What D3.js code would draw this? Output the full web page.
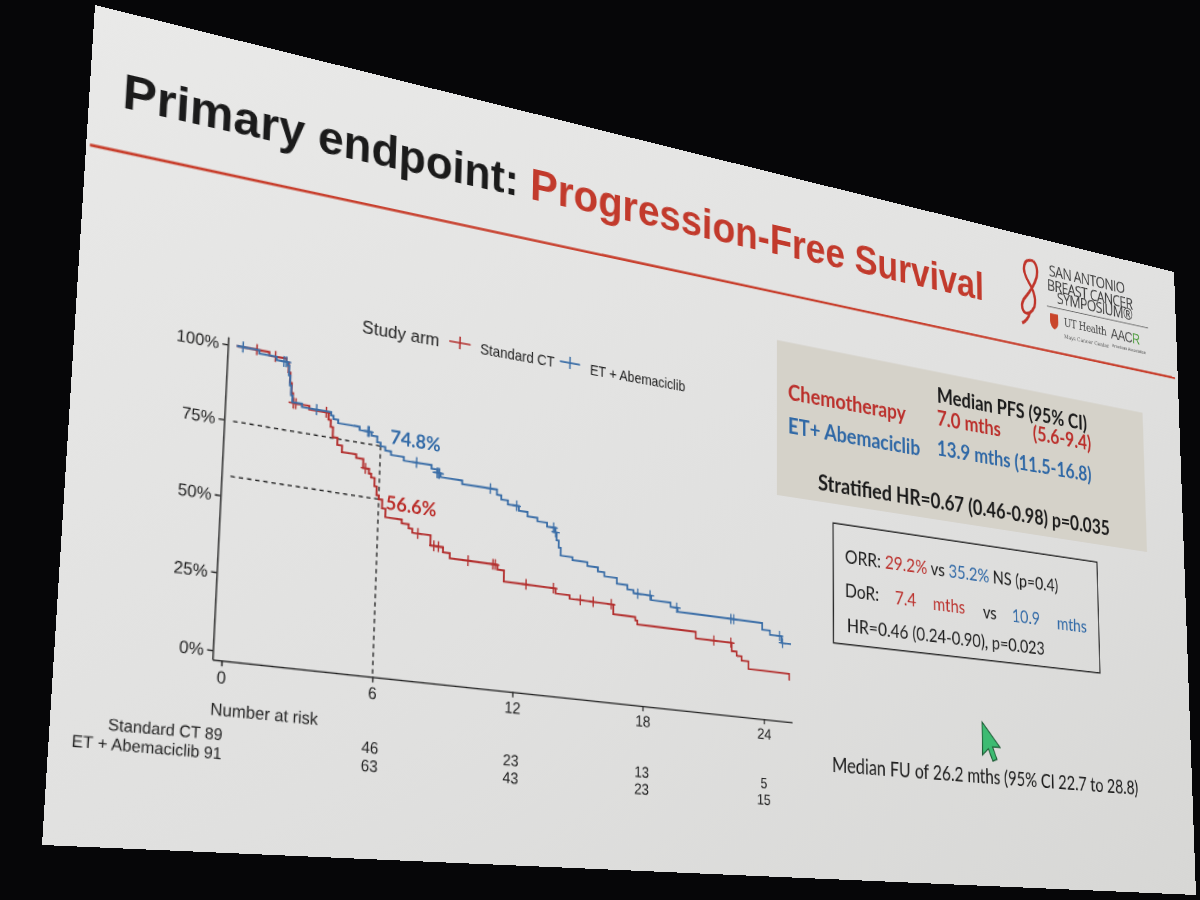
<!DOCTYPE html>
<html>
<head>
<meta charset="utf-8">
<title>Primary endpoint: Progression-Free Survival</title>
<script src="https://cdn.jsdelivr.net/npm/d3@7/dist/d3.min.js"></script>
<style>
  html, body { margin: 0; padding: 0; width: 1200px; height: 900px; overflow: hidden; background: #060608; }
  #slide { position: absolute; left: 0; top: 0; width: 1280px; height: 720px; transform-origin: 0 0; }
  .axis text { font-family: "Liberation Sans", Arial, sans-serif; font-size: 15px; fill: #222; }
  .axis path, .axis line { stroke: #222; stroke-width: 1.3; }
</style>
</head>
<body>
<div id="slide"></div>
<script>
(function () {
'use strict';

// ---- values ----
var months = [0, 6, 12, 18, 24];
var survTicks = [0, 25, 50, 75, 100];
var arms = ['Standard CT', 'ET + Abemaciclib'];

// Kaplan-Meier steps: [month, % progression-free]
var ctSteps = [
  [0, 100], [1.3, 98.9], [2.0, 97.8], [2.1, 94.4], [2.18, 91.0], [2.25, 87.6], [2.32, 84.3], [3.0, 83.1],
  [3.8, 80.8], [3.9, 78.5], [4.0, 75.1], [4.2, 72.8], [4.4, 70.6], [5.0, 69.4], [5.3, 66.4],
  [5.55, 64.8], [5.65, 63.6], [5.8, 60.8], [5.9, 57.9], [6.0, 56.6], [6.15, 53.7], [6.3, 50.9],
  [7.0, 49.6], [7.3, 48.3], [7.46, 47.0], [8.25, 43.5], [8.8, 41.8], [9.1, 40.1], [11.2, 38.5],
  [11.5, 34.7], [13.85, 33.0], [14.5, 31.8], [16.55, 28.4], [17.6, 27.2], [17.7, 25.9],
  [20.55, 23.6], [22.35, 20.6], [22.6, 19.1], [22.85, 17.6], [23.2, 14.8], [25.3, 12.3]
];
var ctCensored = [0.8, 1.55, 2.35, 2.45, 3.7, 5.4, 7.7, 8.4, 8.6, 9.9, 11.0, 11.1, 12.5, 13.75, 15.0, 15.6, 16.45, 21.45, 22.3];
var ctLastMonth = 25.3;

var abemaSteps = [
  [0, 100], [0.9, 98.9], [1.6, 97.8], [2.05, 96.7], [2.12, 93.4], [2.18, 90.1], [2.24, 86.8], [2.3, 84.6],
  [2.7, 83.5], [3.9, 82.4], [4.0, 81.3], [4.2, 80.2], [5.1, 79.1], [5.6, 77.9], [5.85, 76.0], [6.0, 74.8],
  [6.2, 73.6], [6.45, 72.4], [7.0, 71.2], [8.2, 70.0], [8.45, 68.8], [8.6, 67.6], [9.55, 66.4],
  [11.1, 64.6], [11.3, 63.2], [11.6, 61.8], [12.1, 60.2], [12.5, 58.7], [12.95, 57.5], [13.4, 56.1],
  [13.75, 54.6], [13.85, 51.8], [13.95, 49.3], [14.05, 46.6], [14.6, 45.6], [15.3, 44.3], [15.8, 42.9],
  [16.1, 41.5], [16.7, 39.5], [17.2, 38.0], [17.5, 36.9], [18.35, 35.3], [19.3, 33.8], [19.65, 32.4],
  [23.9, 30.0], [24.3, 28.5], [24.9, 26.0]
];
var abemaCensored = [0.25, 1.9, 2.0, 3.3, 5.45, 5.5, 7.55, 8.45, 8.5, 8.55, 10.8, 12.0, 13.7, 13.8, 17.7, 18.3, 19.6, 22.3, 22.45, 24.8, 24.95];
var abemaLastMonth = 25.4;

var ctAtRisk = [89, 46, 23, 13, 5];
var abemaAtRisk = [91, 63, 43, 23, 15];

var landmarkMonth = 6;
var landmarkSurv = [56.6, 74.8];   // Standard CT, ET + Abemaciclib

// ---- slide geometry: the photo shows the projected slide in perspective ----
var W = 1280, H = 720;
var screenCorners = [[95, 5], [1174, 272], [1196, 895], [42, 845]];

function solve(A, b) {
  var n = b.length;
  var M = A.map(function (r, i) { return r.concat([b[i]]); });
  for (var c = 0; c < n; c++) {
    var p = c;
    for (var r = c + 1; r < n; r++) if (Math.abs(M[r][c]) > Math.abs(M[p][c])) p = r;
    var tmp = M[c]; M[c] = M[p]; M[p] = tmp;
    for (r = 0; r < n; r++) {
      if (r === c) continue;
      var f = M[r][c] / M[c][c];
      for (var k = c; k <= n; k++) M[r][k] -= f * M[c][k];
    }
  }
  return M.map(function (r, i) { return r[n] / r[i]; });
}

function homography(src, dst) {
  var A = [], b = [];
  src.forEach(function (s, i) {
    var x = s[0], y = s[1], u = dst[i][0], v = dst[i][1];
    A.push([x, y, 1, 0, 0, 0, -x * u, -y * u]); b.push(u);
    A.push([0, 0, 0, x, y, 1, -x * v, -y * v]); b.push(v);
  });
  var h = solve(A, b);
  return [[h[0], h[1], h[2]], [h[3], h[4], h[5]], [h[6], h[7], 1]];
}

function invert3(m) {
  var a = m[0][0], b = m[0][1], c = m[0][2],
      d = m[1][0], e = m[1][1], f = m[1][2],
      g = m[2][0], h = m[2][1], i = m[2][2];
  var A = e * i - f * h, B = -(d * i - f * g), C = d * h - e * g;
  var det = a * A + b * B + c * C;
  return [
    [A / det, -(b * i - c * h) / det, (b * f - c * e) / det],
    [B / det, (a * i - c * g) / det, -(a * f - c * d) / det],
    [C / det, -(a * h - b * g) / det, (a * e - b * d) / det]
  ];
}

var Hs = homography([[0, 0], [W, 0], [W, H], [0, H]], screenCorners);
var Hi = invert3(Hs);

// photo position -> slide position
function at(px, py) {
  var x = Hi[0][0] * px + Hi[0][1] * py + Hi[0][2];
  var y = Hi[1][0] * px + Hi[1][1] * py + Hi[1][2];
  var w = Hi[2][0] * px + Hi[2][1] * py + Hi[2][2];
  return [x / w, y / w];
}

d3.select('#slide').style('transform', 'matrix3d(' + [
  Hs[0][0], Hs[1][0], 0, Hs[2][0],
  Hs[0][1], Hs[1][1], 0, Hs[2][1],
  0, 0, 1, 0,
  Hs[0][2], Hs[1][2], 0, Hs[2][2]
].join(',') + ')');

var SANS = '"Liberation Sans", Arial, sans-serif';
var CAL = 'Lato, "Open Sans", sans-serif';
var ctColor = '#b3302f', abemaColor = '#3b6ea7';
var txtRed = '#bb2f2b', txtBlue = '#2f68a6';

var svg = d3.select('#slide').append('svg').attr('width', W).attr('height', H);

var grad = svg.append('defs').append('linearGradient').attr('id', 'screen')
  .attr('x1', 0).attr('y1', 0).attr('x2', 1).attr('y2', 1);
grad.append('stop').attr('offset', 0).attr('stop-color', '#e9e9e8');
grad.append('stop').attr('offset', 0.55).attr('stop-color', '#e0e0df');
grad.append('stop').attr('offset', 1).attr('stop-color', '#d7d7d5');
svg.append('rect').attr('width', W).attr('height', H).attr('fill', 'url(#screen)');

// ---- title ----
var tp = at(122, 107);
var title = svg.append('text').attr('x', tp[0]).attr('y', tp[1])
  .attr('font-family', SANS).attr('font-weight', 700).attr('font-size', 45.2).attr('fill', '#1b1b1b');
title.append('tspan').text('Primary endpoint: ');
title.append('tspan').attr('fill', '#c23a2c').text('Progression-Free Survival');

var r0 = at(90, 145), r1 = at(1175, 378);
svg.append('line').attr('x1', r0[0]).attr('y1', r0[1]).attr('x2', r1[0]).attr('y2', r1[1])
  .attr('stroke', '#c8412f').attr('stroke-width', 2.6);

// ---- logo ----
var lg = at(1016, 254);
var logo = svg.append('g').attr('transform', 'translate(' + lg[0] + ',' + lg[1] + ') scale(1.15)');
logo.append('path')
  .attr('d', 'M22,3 C9,1 6,14 15,25 C24,36 27,48 16,56 C6,61 3,49 11,41 C19,32 34,13 22,3 M16,56 C14,62 10,66 6,68')
  .attr('fill', 'none').attr('stroke', '#c0352b').attr('stroke-width', 3);
var logoText = [['SAN ANTONIO', 1049, 276], ['BREAST CANCER', 1047, 290], ['SYMPOSIUM\u00ae', 1057, 303]];
logoText.forEach(function (d) {
  var p = at(d[1], d[2]);
  svg.append('text').attr('x', p[0]).attr('y', p[1]).attr('font-family', '"Open Sans", sans-serif')
    .attr('font-size', 18.5).attr('letter-spacing', -0.9).attr('fill', '#3b3b3b').text(d[0]);
});
var ul0 = at(1047, 306), ul1 = at(1148, 328);
svg.append('line').attr('x1', ul0[0]).attr('y1', ul0[1]).attr('x2', ul1[0]).attr('y2', ul1[1])
  .attr('stroke', '#666').attr('stroke-width', 1);
var sh = at(1050, 313);
svg.append('path').attr('transform', 'translate(' + sh[0] + ',' + sh[1] + ')')
  .attr('d', 'M0,0 H12 V9 Q12,15 6,18 Q0,15 0,9 Z').attr('fill', '#c9452a');
var ut = at(1064, 326);
svg.append('text').attr('x', ut[0]).attr('y', ut[1]).attr('font-family', '"DejaVu Serif", serif')
  .attr('font-size', 13).attr('letter-spacing', -0.5).attr('fill', '#444').text('UT Health');
var ut2 = at(1064, 338);
svg.append('text').attr('x', ut2[0]).attr('y', ut2[1]).attr('font-family', '"DejaVu Serif", serif')
  .attr('font-size', 6.5).attr('fill', '#555').text('Mays Cancer Center');
var aa = at(1111, 338);
var aacr = svg.append('text').attr('x', aa[0]).attr('y', aa[1]).attr('font-family', SANS)
  .attr('font-size', 17).attr('letter-spacing', -0.8).attr('fill', '#4a4a4a');
aacr.append('tspan').text('AAC');
aacr.append('tspan').attr('fill', '#4a9a3a').text('R');
var aa2 = at(1112, 347);
svg.append('text').attr('x', aa2[0]).attr('y', aa2[1]).attr('font-family', SANS)
  .attr('font-size', 5.5).attr('fill', '#555').text('American Association');

// ---- chart ----
// anchors: 0 % at month 0 and at month 24, 100 % at month 0
var o = at(222, 651), e = at(764, 711), upper = at(237, 346);
var x = d3.scaleLinear().domain([0, 24]).range([o[0], e[0]]);
var y = d3.scaleLinear().domain([0, 100]).range([o[1], upper[1]]);
var xMin = -0.35, xMax = 25.45, yMin = -3, yMax = 102.6;
// the camera lens bends the screen slightly: a small shear keeps both 0 % anchors in place
var shear = (e[1] - o[1]) / (e[0] - o[0]);

var chart = svg.append('g')
  .attr('transform', 'matrix(1,' + shear + ',0,1,0,' + (-shear * o[0]) + ')');

chart.append('g').attr('class', 'axis')
  .attr('transform', 'translate(0,' + y(yMin) + ')')
  .call(d3.axisBottom(x.copy().domain([xMin, xMax]).range([x(xMin), x(xMax)]))
    .tickValues(months).tickSize(5).tickPadding(4).tickSizeOuter(0));

chart.append('g').attr('class', 'axis')
  .attr('transform', 'translate(' + x(xMin) + ',0)')
  .call(d3.axisLeft(y.copy().domain([yMin, yMax]).range([y(yMin), y(yMax)]))
    .tickValues(survTicks).tickFormat(function (d) { return d + '%'; })
    .tickSize(5).tickPadding(3).tickSizeOuter(0));

// landmark guides at 6 months
landmarkSurv.forEach(function (s) {
  chart.append('line').attr('x1', x(0)).attr('x2', x(landmarkMonth))
    .attr('y1', y(s)).attr('y2', y(s))
    .attr('stroke', '#222').attr('stroke-width', 1.3).attr('stroke-dasharray', '4,3.5');
});
chart.append('line').attr('x1', x(landmarkMonth)).attr('x2', x(landmarkMonth))
  .attr('y1', y(d3.max(landmarkSurv))).attr('y2', y(yMin))
  .attr('stroke', '#222').attr('stroke-width', 1.3).attr('stroke-dasharray', '4,3.5');

function survAt(steps, t) {
  var s = steps[0][1];
  steps.forEach(function (d) { if (d[0] <= t) s = d[1]; });
  return s;
}

var stepLine = d3.line()
  .x(function (d) { return x(d[0]); })
  .y(function (d) { return y(d[1]); })
  .curve(d3.curveStepAfter);

var curves = [
  { steps: ctSteps, censored: ctCensored, last: ctLastMonth, color: ctColor },
  { steps: abemaSteps, censored: abemaCensored, last: abemaLastMonth, color: abemaColor }
];

curves.forEach(function (c) {
  var pts = c.steps.slice();
  if (pts[pts.length - 1][0] < c.last) pts.push([c.last, pts[pts.length - 1][1]]);
  chart.append('path').datum(pts).attr('d', stepLine)
    .attr('fill', 'none').attr('stroke', c.color).attr('stroke-width', 1.9);
  chart.selectAll(null).data(c.censored).enter().append('path')
    .attr('transform', function (t) { return 'translate(' + x(t) + ',' + y(survAt(c.steps, t)) + ')'; })
    .attr('d', 'M-4.5,0H4.5M0,-5V5')
    .attr('stroke', c.color).attr('stroke-width', 1.4).attr('fill', 'none');
});

// landmark values
chart.append('text').attr('x', x(landmarkMonth + 0.4)).attr('y', y(landmarkSurv[1]) - 4)
  .attr('font-family', CAL).attr('font-weight', 700).attr('font-size', 18).attr('fill', txtBlue)
  .text(landmarkSurv[1].toFixed(1) + '%');
chart.append('text').attr('x', x(landmarkMonth + 0.3)).attr('y', y(landmarkSurv[0]) + 8)
  .attr('font-family', CAL).attr('font-weight', 700).attr('font-size', 18).attr('fill', txtRed)
  .text(landmarkSurv[0].toFixed(1) + '%');

// number at risk
var nar = at(210, 715);
chart.append('text').attr('x', nar[0]).attr('y', nar[1])
  .attr('font-family', SANS).attr('font-size', 15).attr('fill', '#222').text('Number at risk');
var rowY = [at(226, 740.5)[1], at(226, 759.5)[1]];
[ctAtRisk, abemaAtRisk].forEach(function (counts, i) {
  chart.append('text').attr('x', x(0) + 4).attr('y', rowY[i]).attr('text-anchor', 'end')
    .attr('font-family', SANS).attr('font-size', 14).attr('fill', '#222')
    .text(arms[i] + ' ' + counts[0]);
  chart.selectAll(null).data(months.slice(1)).enter().append('text')
    .attr('x', function (m) { return x(m); }).attr('y', rowY[i]).attr('text-anchor', 'middle')
    .attr('font-family', SANS).attr('font-size', 14.5).attr('fill', '#222')
    .text(function (m, j) { return counts[j + 1]; });
});

// legend (placed on the slide, outside the sheared plot)
var lgTitle = at(362, 333);
svg.append('text').attr('x', lgTitle[0]).attr('y', lgTitle[1])
  .attr('font-family', SANS).attr('font-size', 17).attr('fill', '#222').text('Study arm');
var keyPos = [at(460, 343), at(570, 363)];
var keyLabel = [at(480, 354), at(590, 375)];
arms.forEach(function (name, i) {
  var k = keyPos[i];
  svg.append('path').attr('transform', 'translate(' + k[0] + ',' + k[1] + ')')
    .attr('d', 'M-11,0H11M0,-6V6').attr('stroke', curves[i].color).attr('stroke-width', 1.6);
  svg.append('text').attr('x', keyLabel[i][0]).attr('y', keyLabel[i][1])
    .attr('font-family', SANS).attr('font-size', 14).attr('fill', '#222').text(name);
});

// ---- results panel ----
var g0 = at(777, 340), g1 = at(1147, 552);
svg.append('rect').attr('x', g0[0]).attr('y', g0[1])
  .attr('width', g1[0] - g0[0]).attr('height', g1[1] - g0[1]).attr('fill', '#d5d2c9');

function label(px, py, parts, size, weight) {
  var p = at(px, py);
  var t = svg.append('text').attr('x', p[0]).attr('y', p[1])
    .attr('font-family', CAL).attr('font-size', size).attr('font-weight', weight);
  parts.forEach(function (d) { t.append('tspan').attr('fill', d[1]).text(d[0]); });
  return t;
}
label(937, 402, [['Median PFS (95% CI)', '#1b1b1b']], 23, 700);
label(788, 400, [['Chemotherapy', txtRed]], 23, 700);
label(937, 425, [['7.0 mths', txtRed]], 23, 700);
label(1033, 440, [['(5.6-9.4)', txtRed]], 23, 700);
label(788, 433, [['ET+ Abemaciclib', txtBlue]], 23, 700);
label(937, 455, [['13.9 mths (11.5-16.8)', txtBlue]], 23, 700);
label(818, 490, [['Stratified HR=0.67 (0.46-0.98) p=0.035', '#1b1b1b']], 23, 700);

var w0 = at(833, 523), w1 = at(1100, 673);
svg.append('rect').attr('x', w0[0]).attr('y', w0[1])
  .attr('width', w1[0] - w0[0]).attr('height', w1[1] - w0[1])
  .attr('fill', 'none').attr('stroke', '#2a2a2a').attr('stroke-width', 1.5);

label(845, 563, [['ORR: ', '#1b1b1b'], ['29.2%', txtRed], [' vs ', '#1b1b1b'], ['35.2%', txtBlue], [' NS (p=0.4)', '#1b1b1b']], 20, 400);
var dor = [['DoR:', 845, '#1b1b1b'], ['7.4', 895, txtRed], ['mths', 933, txtRed], ['vs', 983, '#1b1b1b'],
           ['10.9', 1012, txtBlue], ['mths', 1057, txtBlue]];
dor.forEach(function (d) {
  label(d[1], 597 + (d[1] - 845) * 0.15, [[d[0], d[2]]], 20, 400);
});
label(847, 632, [['HR=0.46 (0.24-0.90), p=0.023', '#1b1b1b']], 20, 400);

label(832, 772, [['Median FU of 26.2 mths (95% CI 22.7 to 28.8)', '#1b1b1b']], 20.5, 400);

// pointer left on the screen
var cp = at(982, 722);
svg.append('path').attr('transform', 'translate(' + cp[0] + ',' + cp[1] + ') scale(1.15)')
  .attr('d', 'M0,0 L0,30 L7,24 L12,35 L17,33 L12,22 L21,22 Z')
  .attr('fill', '#3dbb72').attr('stroke', '#1d5a35').attr('stroke-width', 1.1);
})();
</script>
</body>
</html>
